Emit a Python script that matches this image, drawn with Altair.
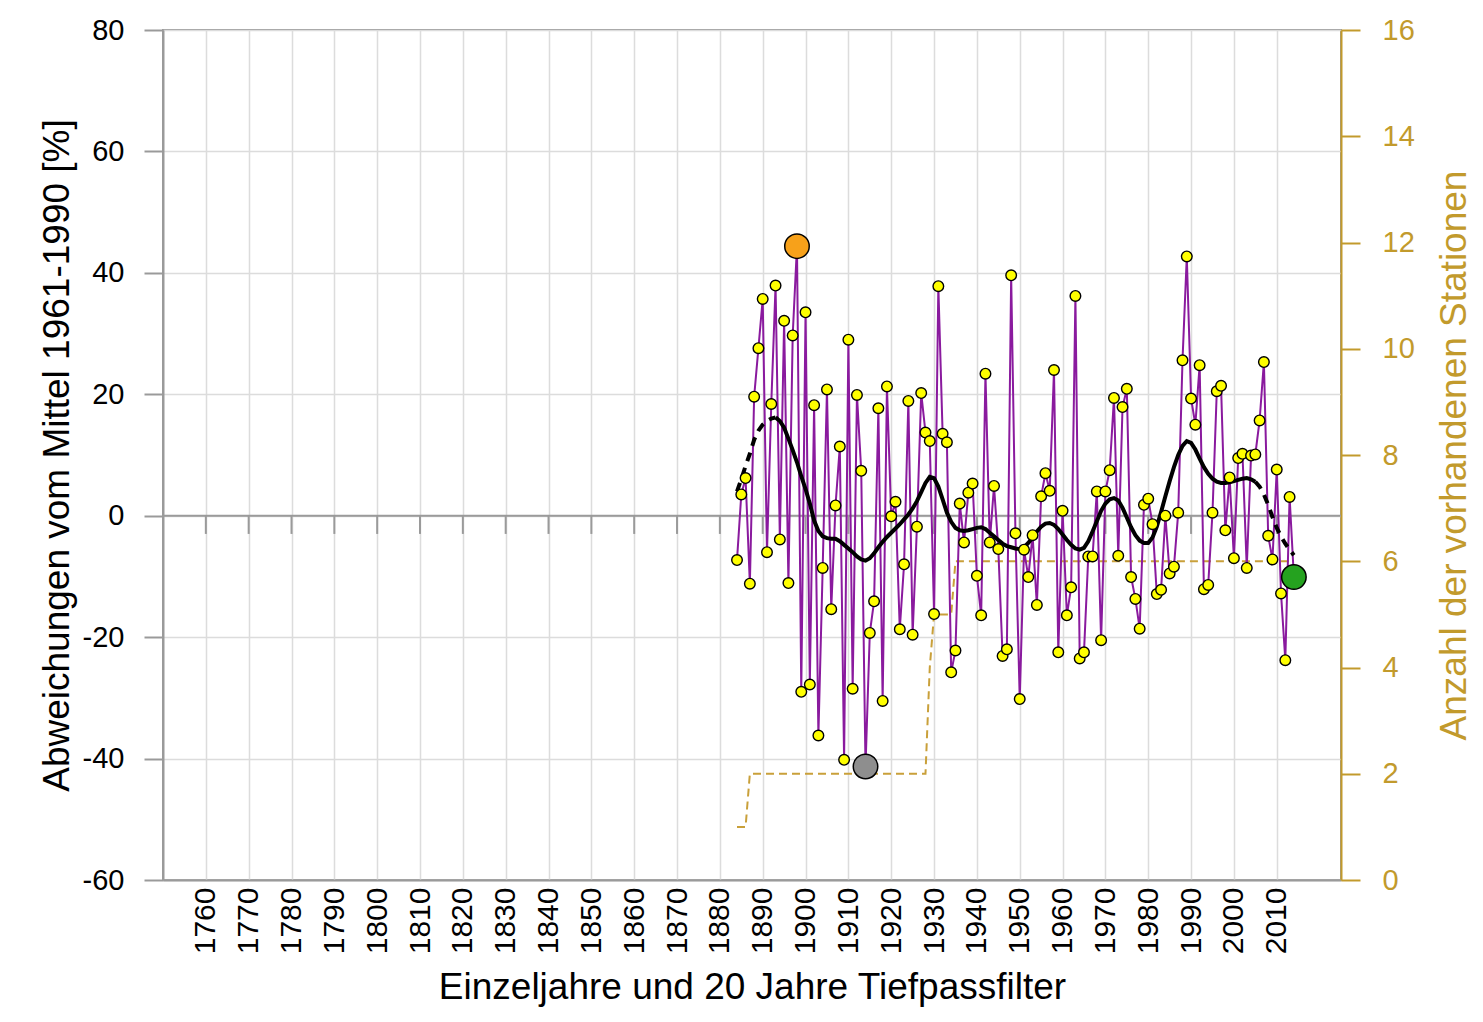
import altair as alt
import pandas as pd

# ---------------- data ----------------
years = list(range(1884, 2015))
anomaly = [
    -7.3, 3.5, 6.2, -11.2, 19.6, 27.6, 35.7, -6.0, 18.4, 37.9,      # 1884-1893
    -3.9, 32.1, -11.1, 29.7, 44.4, -29.0, 33.5, -27.8, 18.2, -36.2,  # 1894-1903
    -8.6, 20.8, -15.4, 1.7, 11.4, -40.2, 29.0, -28.5, 19.9, 7.4,     # 1904-1913
    -41.3, -19.3, -14.1, 17.7, -30.5, 21.3, -0.1, 2.3, -18.7, -8.0,  # 1914-1923
    18.9, -19.6, -1.8, 20.2, 13.7, 12.3, -16.2, 37.8, 13.5, 12.1,    # 1924-1933
    -25.8, -22.2, 2.0, -4.4, 3.8, 5.3, -9.9, -16.4, 23.4, -4.4,      # 1934-1943
    4.9, -5.5, -23.1, -22.0, 39.6, -2.9, -30.2, -5.6, -10.1, -3.2,   # 1944-1953
    -14.7, 3.2, 7.0, 4.1, 24.0, -22.5, 0.8, -16.4, -11.8, 36.2,      # 1954-1963
    -23.5, -22.5, -6.7, -6.7, 4.0, -20.5, 4.0, 7.5, 19.4, -6.6,      # 1964-1973
    17.9, 20.9, -10.1, -13.7, -18.6, 1.8, 2.8, -1.4, -12.9, -12.2,   # 1974-1983
    0.0, -9.5, -8.4, 0.5, 25.6, 42.7, 19.3, 15.0, 24.8, -12.1,       # 1984-1993
    -11.4, 0.5, 20.5, 21.4, -2.4, 6.3, -7.0, 9.5, 10.2, -8.6,        # 1994-2003
    9.9, 10.1, 15.7, 25.3, -3.3, -7.2, 7.6, -12.8, -23.8, 3.1,       # 2004-2013
    -10.1,                                                           # 2014
]

smooth_years = list(range(1884, 2015))
smooth_vals = [
    4.0, 6.0, 8.2, 10.2, 12.5, 14.0, 15.0, 15.6, 16.0, 16.2,         # 1884-1893
    15.6, 14.5, 12.7, 10.8, 8.8, 6.5, 4.4, 2.0, -0.8, -2.5,          # 1894-1903
    -3.4, -3.7, -3.8, -3.8, -4.2, -4.8, -5.4, -6.0, -6.7, -7.2,      # 1904-1913
    -7.4, -7.0, -6.2, -5.2, -4.3, -3.5, -2.8, -2.1, -1.4, -0.6,      # 1914-1923
    0.2, 1.2, 2.4, 3.9, 5.4, 6.4, 6.2, 4.8, 2.7, 0.5,                # 1924-1933
    -1.0, -2.0, -2.4, -2.5, -2.4, -2.2, -2.0, -1.9, -2.2, -2.8,      # 1934-1943
    -3.4, -4.0, -4.6, -5.0, -5.2, -5.4, -5.5, -5.2, -4.5, -3.6,      # 1944-1953
    -2.6, -1.8, -1.3, -1.2, -1.5, -2.2, -3.1, -4.0, -4.8, -5.4,      # 1954-1963
    -5.6, -5.3, -4.2, -2.6, -0.9, 0.8, 2.0, 2.7, 2.9, 2.5,           # 1964-1973
    1.3, -0.3, -1.9, -3.2, -4.1, -4.5, -4.5, -3.6, -1.8, 0.6,        # 1974-1983
    3.2, 5.7, 8.0, 10.0, 11.5, 12.3, 12.0, 10.9, 9.4, 8.0,           # 1984-1993
    6.9, 6.1, 5.6, 5.4, 5.4, 5.5, 5.7, 5.9, 6.1, 6.2,                # 1994-2003
    6.0, 5.6, 4.8, 3.5, 1.8, -0.2, -2.0, -3.4, -4.6, -5.6,           # 2004-2013
    -6.5,                                                            # 2014
]
solid_from, solid_to = 1893, 2005

station_years = [1884, 1886, 1887, 1928, 1929, 1930, 1934, 1935, 2014]
station_counts = [1, 1, 2, 2, 4, 5, 5, 6, 6]

marker_years = [1898, 1914, 2014]
marker_kind = ["Maximum", "Minimum", "Letztes Jahr"]
marker_colors = ["#F7A11A", "#8E8E8E", "#25A21F"]

decades = list(range(1760, 2011, 10))

# ---------------- tables ----------------
df = pd.DataFrame({"year": years, "v": anomaly})
sm = pd.DataFrame({"year": smooth_years, "v": smooth_vals})
sm_solid = sm[(sm.year >= solid_from) & (sm.year <= solid_to)]
sm_head = sm[sm.year <= solid_from].assign(seg="head")
sm_tail = sm[sm.year >= solid_to].assign(seg="tail")
sm_dash = pd.concat([sm_head, sm_tail])
st = pd.DataFrame({"year": station_years, "n": station_counts})
mk = df[df.year.isin(marker_years)].copy()
mk["kind"] = [marker_kind[marker_years.index(y)] for y in mk.year]
zero = pd.DataFrame({"v": [0]})
ticks = pd.DataFrame({"year": decades, "v": [0] * len(decades), "v2": [-3] * len(decades)})

FONT = "Liberation Sans"
GOLD = "#C29A2C"
GRID = "#DCDCDC"
AXG = "#9A9A9A"

x_axis = alt.Axis(
    values=decades, format="d", labelAngle=270, labelFontSize=30, labelFont=FONT,
    labelColor="black", labelPadding=7, labelOverlap=False, labelFlush=False,
    ticks=False, grid=True, gridColor=GRID, gridWidth=1.5,
    domainColor=AXG, domainWidth=2,
    title="Einzeljahre und 20 Jahre Tiefpassfilter", titleFont=FONT,
    titleFontSize=37, titleFontWeight="normal", titleColor="black", titlePadding=16,
)
y_axis = alt.Axis(
    values=list(range(-60, 81, 20)), labelExpr="'' + datum.value",
    labelFontSize=29, labelFont=FONT,
    labelColor="black", labelPadding=20, tickSize=19, tickColor=AXG, tickWidth=2,
    grid=True, gridColor=GRID, gridWidth=1.5, domainColor=AXG, domainWidth=2,
    title="Abweichungen vom Mittel 1961-1990 [%]", titleFont=FONT,
    titleFontSize=37, titleFontWeight="normal", titleColor="black", titlePadding=6,
)
r_axis = alt.Axis(
    orient="right", values=list(range(0, 17, 2)), labelFontSize=29, labelFont=FONT,
    labelColor=GOLD, labelPadding=22, tickSize=19, tickColor=GOLD, tickWidth=2,
    grid=False, domainColor=GOLD, domainWidth=2,
    title="Anzahl der vorhandenen Stationen", titleFont=FONT, titleFontSize=37,
    titleFontWeight="normal", titleColor=GOLD, titlePadding=22,
    titleAngle=270, titleBaseline="top",
)

X = alt.X("year:Q", scale=alt.Scale(domain=[1750, 2025], nice=False, zero=False), axis=x_axis)
Y = alt.Y("v:Q", scale=alt.Scale(domain=[-60, 80], nice=False, zero=False), axis=y_axis)

zero_line = alt.Chart(zero).mark_rule(color=AXG, strokeWidth=2).encode(y=Y)
zero_ticks = alt.Chart(ticks).mark_rule(color=AXG, strokeWidth=2).encode(x=X, y=Y, y2="v2:Q")
purple = alt.Chart(df).mark_line(color="#8A1A9E", strokeWidth=2).encode(x=X, y=Y)
smooth_s = alt.Chart(sm_solid).mark_line(color="black", strokeWidth=4).encode(x=X, y=Y)
smooth_d = alt.Chart(sm_dash).mark_line(color="black", strokeWidth=4, strokeDash=[9, 7]).encode(
    x=X, y=Y, detail="seg:N")
dots = alt.Chart(df).mark_point(
    shape="circle", filled=True, fill="#FFFF00", stroke="black", strokeWidth=1.4,
    size=112, opacity=1, fillOpacity=1, strokeOpacity=1,
).encode(x=X, y=Y)
big = alt.Chart(mk).mark_point(
    shape="circle", filled=True, stroke="black", strokeWidth=1.5, size=600,
    opacity=1, fillOpacity=1, strokeOpacity=1,
).encode(
    x=X, y=Y,
    fill=alt.Fill("kind:N", scale=alt.Scale(domain=marker_kind, range=marker_colors), legend=None),
)

left = alt.layer(zero_line, zero_ticks, purple, smooth_s, smooth_d, dots, big)

station = alt.Chart(st).mark_line(color="#C9A03A", strokeWidth=2, strokeDash=[8, 5]).encode(
    x=X,
    y=alt.Y("n:Q", scale=alt.Scale(domain=[0, 16], nice=False, zero=True), axis=r_axis),
)

chart = alt.layer(station, left).resolve_scale(y="independent").properties(
    width=1178, height=850,
    autosize=alt.AutoSizeParams(type="none"),
    padding={"left": 155, "top": 22, "right": 134, "bottom": 134},
    background="white",
).configure_view(stroke=AXG, strokeWidth=2)

chart.save("out.html", embed_options={"renderer": "svg", "actions": False})
